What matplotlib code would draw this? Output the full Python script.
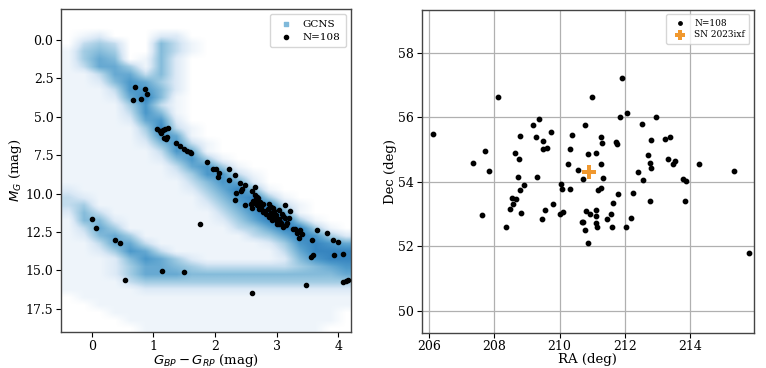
import numpy as np
import matplotlib
matplotlib.use("Agg")
from matplotlib import pyplot as plt
from matplotlib.colors import LinearSegmentedColormap

plt.rcParams['font.family'] = 'DejaVu Serif'

# GCNS density, levels 0-9.
# columns: colour bins of 0.25 mag from -0.5 to 4.25
# rows: M_G bins of 0.5 mag from -2 to 19
gcns_rows = [
    "0000000000000000000",
    "0000000000000000000",
    "0000000000000000000",
    "0120002200000000000",
    "0343005310000000000",
    "1454005310000000000",
    "1465015200000000000",
    "1366415200000000000",
    "1136635200000000000",
    "1125764200000000000",
    "1113775200000000000",
    "1112685100000000000",
    "1111473100000000000",
    "1111375100000000000",
    "1111267200000000000",
    "1111148310000000000",
    "1111137610000000000",
    "1111125731000000000",
    "1111113761000000000",
    "1111112574100000000",
    "1111111367410000000",
    "1111111247731000000",
    "1111111135762000000",
    "2111111124685100000",
    "3211111113578410000",
    "3411111112468831000",
    "2531111111357961000",
    "1552111111246894100",
    "1364111111134688410",
    "1256411111113468742",
    "1136631111111247876",
    "1124763111111136888",
    "1112576421111125788",
    "1112466543333334567",
    "1112466655555555556",
    "1111344444444444444",
    "1111122222222222222",
    "0111111111111111111",
    "0011111111111111111",
    "0001111111111111110",
    "0000111111111111110",
    "0000011111111111100",
]

# sample stars on the colour-magnitude diagram
bp_rp = [0.70, 0.87, 0.90, 0.67, 0.80,
         1.05, 1.10, 1.13, 1.16, 1.19, 1.23, 1.21, 1.17, 1.22, 1.36, 1.43, 1.50, 1.54, 1.59, 1.61,
         1.87, 1.97, 2.01, 2.06, 2.05, 2.23, 2.22, 2.32, 2.41, 2.49, 2.43, 2.42, 2.33, 2.32, 2.65, 2.59,
         2.64, 2.68, 2.67, 2.70, 2.48, 2.58, 2.60, 2.64, 2.72, 2.77, 2.71, 2.78, 2.87, 2.90, 2.85,
         2.94, 2.95, 3.03, 3.13, 2.93, 2.96, 3.00, 3.04, 3.07, 3.10, 3.03, 3.13, 3.17, 3.19, 3.22,
         2.82, 2.88, 2.98, 3.08, 2.75, 2.68, 3.00, 3.15, 2.90, 3.05, 2.80, 2.92, 3.10, 2.62,
         3.26, 3.30, 3.32, 3.37, 3.36, 3.41, 3.65, 3.57, 3.81, 3.91, 3.99, 3.58, 3.56, 3.92, 4.08,
         4.08, 4.12, 4.16, 3.48, 2.60, 1.75,
         0.00, 0.07, 0.37, 0.45, 1.14, 1.50, 0.54]
abs_g = [3.08, 3.17, 3.54, 3.89, 3.84,
         5.77, 5.95, 6.03, 5.86, 5.77, 5.71, 6.42, 6.40, 6.34, 6.68, 6.90, 7.12, 7.25, 7.32, 7.35,
         7.97, 8.38, 8.38, 8.64, 8.93, 8.42, 9.12, 8.77, 9.32, 9.42, 9.71, 9.81, 9.97, 10.42, 9.55, 9.84,
         10.10, 10.23, 10.38, 10.30, 10.72, 10.70, 10.94, 10.59, 10.57, 10.68, 11.03, 11.20, 10.66, 10.86, 10.98,
         10.94, 11.16, 11.09, 10.75, 11.47, 11.68, 11.79, 11.68, 11.90, 12.16, 12.00, 11.60, 11.90, 11.60, 11.14,
         11.35, 11.55, 11.40, 11.35, 10.85, 10.75, 11.95, 12.05, 11.25, 11.85, 11.10, 11.70, 11.45, 10.45,
         12.33, 12.29, 12.55, 12.38, 12.87, 12.61, 12.40, 13.05, 12.57, 13.00, 13.13, 13.98, 14.11, 13.98, 13.96,
         15.74, 15.70, 15.65, 15.96, 16.46, 11.96,
         11.62, 12.24, 13.03, 13.24, 15.05, 15.09, 15.65]

# sky positions (deg)
ra = [206.12, 207.35, 207.63, 207.73, 207.83, 208.13, 208.37, 208.47, 208.53, 208.57,
      208.66, 208.63, 208.73, 208.77, 208.78, 208.78, 208.83, 208.90, 209.20, 209.28,
      209.32, 209.37, 209.46, 209.50, 209.50, 209.56, 209.61, 209.74, 209.80, 210.00,
      210.04, 210.07, 210.10, 210.27, 210.31, 210.32, 210.39, 210.57, 210.68, 210.71,
      210.71, 210.78, 210.78, 210.82, 210.86, 210.88, 210.94, 211.00, 211.10, 211.10,
      211.10, 211.12, 211.15, 211.18, 211.26, 211.27, 211.28, 211.29, 211.32, 211.46,
      211.56, 211.61, 211.65, 211.73, 211.76, 211.80, 211.86, 211.90, 212.05, 212.04,
      212.19, 212.26, 212.41, 212.51, 212.54, 212.71, 212.76, 212.77, 212.80, 212.81,
      212.95, 213.24, 213.32, 213.39, 213.47, 213.52, 213.78, 213.83, 213.88, 214.27,
      215.34, 215.79]
dec = [55.48, 54.59, 52.97, 54.96, 54.34, 56.63, 52.60, 53.16, 53.49, 53.31,
       53.46, 54.88, 54.16, 54.71, 55.43, 53.75, 53.04, 53.91, 55.76, 55.40,
       54.14, 55.94, 52.85, 55.27, 55.02, 53.11, 55.05, 55.53, 53.31, 53.00,
       53.92, 53.77, 53.05, 54.54, 55.00, 53.78, 55.45, 54.36, 52.76, 54.07,
       52.74, 55.76, 52.50, 53.10, 54.85, 52.11, 53.01, 56.64, 54.88, 53.12,
       52.94, 52.72, 52.61, 53.74, 53.81, 54.55, 55.40, 55.19, 54.12, 52.83,
       52.99, 52.61, 53.35, 55.24, 55.17, 53.62, 55.99, 57.21, 56.13, 52.60,
       52.89, 53.64, 54.29, 55.78, 54.06, 54.82, 54.59, 53.41, 54.41, 55.30,
       55.99, 55.32, 54.69, 55.37, 54.55, 54.64, 54.07, 53.41, 54.03, 54.56,
       54.34, 51.78]

sn_ra = 210.91
sn_dec = 54.31

density = np.array([[int(ch) for ch in row] for row in gcns_rows], dtype=float)

blues = plt.get_cmap('Blues')
cmap = LinearSegmentedColormap.from_list(
    'gcns', ['white', blues(0.15), blues(0.4), blues(0.58), blues(0.74)])

fig = plt.figure(figsize=(7.66, 3.68), dpi=100)

# left: colour-magnitude diagram
ax1 = fig.add_axes([0.0796, 0.0978, 0.3784, 0.8777])
ax1.imshow(density, cmap=cmap, vmin=0, vmax=9, extent=(-0.5, 4.25, 19, -2),
           origin='upper', aspect='auto', interpolation='bilinear')
ax1.scatter(bp_rp, abs_g, s=9, c='black', zorder=3)
ax1.set_xlim(-0.5, 4.2)
ax1.set_ylim(19, -2)
ax1.set_xticks([0, 1, 2, 3, 4])
ax1.set_yticks(np.arange(0, 18, 2.5))
ax1.set_yticklabels(['%.1f' % v for v in np.arange(0, 18, 2.5)])
ax1.set_xlabel(r'$G_{BP} - G_{RP}$ (mag)', fontsize=9.5, labelpad=-0.5)
ax1.set_ylabel(r'$M_G$ (mag)', fontsize=9.5, labelpad=1)
h1 = ax1.scatter([], [], marker='s', s=10, color=blues(0.45), label='GCNS')
h2 = ax1.scatter([], [], s=9, c='black', label='N=108')
ax1.legend(handles=[h1, h2], loc='upper right', fontsize=7.5, handletextpad=0.6,
           borderpad=0.5, labelspacing=0.4)

# right: sky positions
ax2 = fig.add_axes([0.5505, 0.0959, 0.4338, 0.8777])
ax2.grid(True, color='#b0b0b0', linewidth=0.9, zorder=0)
ax2.scatter(ra, dec, s=10, c='black', zorder=3)
ax2.scatter([sn_ra], [sn_dec], marker='P', s=110, color='#f0982e', zorder=4,
            linewidths=0)
ax2.set_xlim(205.78, 215.95)
ax2.set_ylim(49.32, 59.33)
ax2.set_xticks([206, 208, 210, 212, 214])
ax2.set_yticks([50, 52, 54, 56, 58])
ax2.set_xlabel('RA (deg)', fontsize=9.5, labelpad=0)
ax2.set_ylabel('Dec (deg)', fontsize=9.5, labelpad=1)
ax2.set_axisbelow(True)
g1 = ax2.scatter([], [], s=6, c='black', label='N=108')
g2 = ax2.scatter([], [], marker='P', s=50, color='#f0982e', linewidths=0,
                 label='SN 2023ixf')
ax2.legend(handles=[g1, g2], loc='upper right', fontsize=6.5, handletextpad=0.6,
           borderpad=0.5, labelspacing=0.3)

for ax in (ax1, ax2):
    ax.tick_params(labelsize=9, length=3.5, pad=2)
    for sp in ax.spines.values():
        sp.set_color('#444444')
        sp.set_linewidth(1.0)

fig.savefig('out.png', dpi=100)
